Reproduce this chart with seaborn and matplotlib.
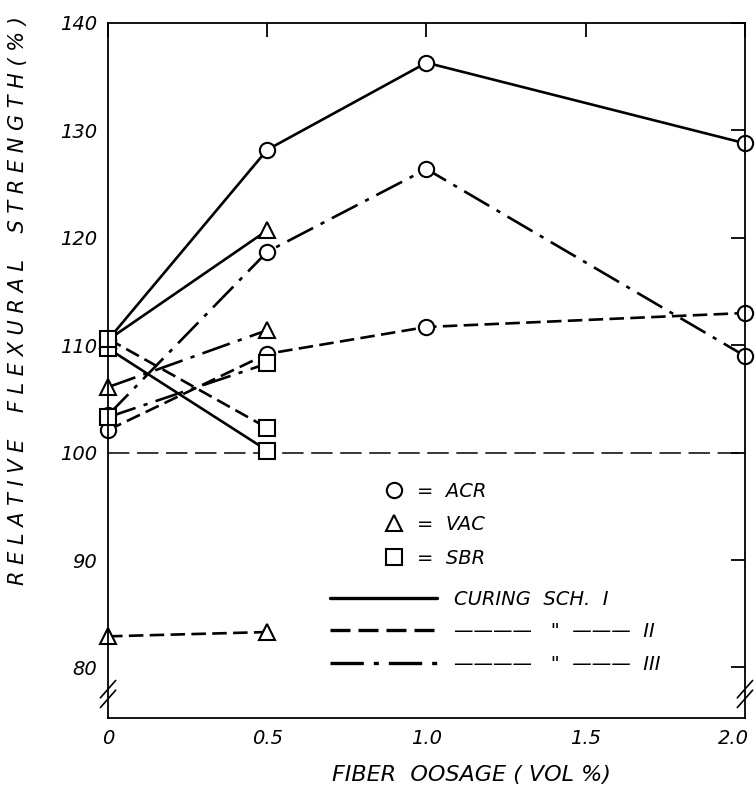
import pandas as pd
import matplotlib.pyplot as plt
import seaborn as sns
from matplotlib.lines import Line2D
from matplotlib.transforms import ScaledTranslation

# Values
dosage_long = [0, 0.5, 1.0, 2.0]
dosage_short = [0, 0.5]

acr_sch1 = [110.5, 128.2, 136.3, 128.8]
acr_sch2 = [102.1, 109.2, 111.7, 113.0]
acr_sch3 = [103.5, 118.7, 126.4, 109.0]

vac_sch1 = [110.5, 120.7]
vac_sch2 = [82.9, 83.3]
vac_sch3 = [106.1, 111.4]

sbr_sch1 = [109.7, 100.2]
sbr_sch2 = [110.6, 102.3]
sbr_sch3 = [103.3, 108.3]

x_ticks = [0, 0.5, 1.0, 1.5, 2.0]
x_tick_labels = ['0', '0.5', '1.0', '1.5', '2.0']
y_ticks = [80, 90, 100, 110, 120, 130, 140]

# Build one long table
rows = []
series = [
    ('ACR', 'I', dosage_long, acr_sch1), ('ACR', 'II', dosage_long, acr_sch2), ('ACR', 'III', dosage_long, acr_sch3),
    ('VAC', 'I', dosage_short, vac_sch1), ('VAC', 'II', dosage_short, vac_sch2), ('VAC', 'III', dosage_short, vac_sch3),
    ('SBR', 'I', dosage_short, sbr_sch1), ('SBR', 'II', dosage_short, sbr_sch2), ('SBR', 'III', dosage_short, sbr_sch3),
]
for mat, sch, xs, ys in series:
    for x, y in zip(xs, ys):
        rows.append({'dosage': x, 'strength': y, 'series': mat + ' ' + sch})
df = pd.DataFrame(rows)

marker_by_mat = {'ACR': 'o', 'VAC': '^', 'SBR': 's'}
dash_by_sch = {'I': '', 'II': (5.5, 2.4), 'III': (11, 3.2, 1.6, 3.2)}
markers = {m + ' ' + s: marker_by_mat[m] for m, s, _, _ in series}
dashes = {m + ' ' + s: dash_by_sch[s] for m, s, _, _ in series}

sns.set_theme(style='white')
plt.rcParams['font.family'] = ['DejaVu Sans']
plt.rcParams['font.style'] = 'italic'
plt.rcParams['text.color'] = 'black'
plt.rcParams['axes.labelcolor'] = 'black'

fig = plt.figure(figsize=(7.56, 7.87), dpi=100)
ax = fig.add_axes([0.1429, 0.0877, 0.8425, 0.8831])

ax.axhline(100, color='black', lw=1.1, dashes=(14, 5), zorder=1)

sns.lineplot(data=df, x='dosage', y='strength', style='series', markers=markers, dashes=dashes,
             estimator=None, sort=True, color='black', lw=1.9, markersize=11,
             markerfacecolor='white', markeredgecolor='black', markeredgewidth=1.5,
             clip_on=False, legend=False, ax=ax)

ax.set_xlim(0, 2.0)
ax.set_ylim(75.3, 140)
ax.set_xticks(x_ticks)
ax.set_xticklabels(x_tick_labels)
ax.set_yticks(y_ticks)
ax.tick_params(direction='in', length=10, width=1.3, top=True, right=True, labelsize=14,
               colors='black', labelcolor='black', pad=8)
for sp in ax.spines.values():
    sp.set_color('black')
    sp.set_linewidth(1.3)

# keep the last x tick label inside the figure
last = ax.get_xticklabels()[-1]
last.set_transform(last.get_transform() + ScaledTranslation(-0.12, 0, fig.dpi_scale_trans))

ax.set_xlabel('FIBER  OOSAGE ( VOL %)', fontsize=16, color='black')
ax.xaxis.set_label_coords(0.57, -0.068)
ax.set_ylabel('R E L A T I V E    F L E X U R A L    S T R E N G T H ( % )', fontsize=15, color='black')
ax.yaxis.set_label_coords(-0.125, 0.6)

# axis break marks
for x0 in (0, 1):
    for dy in (0, 0.014):
        ax.plot([x0 - 0.012, x0 + 0.012], [0.015 + dy, 0.04 + dy], transform=ax.transAxes,
                color='black', lw=1.2, clip_on=False)

# legends
mat_handles = [Line2D([], [], ls='none', marker=marker_by_mat[m], ms=11, mfc='white', mec='black', mew=1.5)
               for m in ['ACR', 'VAC', 'SBR']]
leg1 = ax.legend(mat_handles, ['=  ACR', '=  VAC', '=  SBR'], loc='center left',
                 bbox_to_anchor=(0.43, 0.278), frameon=False, fontsize=14, handlelength=1.2,
                 handletextpad=0.6, labelspacing=0.75, borderpad=0, borderaxespad=0,
                 labelcolor='black')
ax.add_artist(leg1)
sch_handles = [Line2D([], [], color='black', lw=2.4, dashes=(6, 2.4) if s == 'II' else ((10, 3, 1.5, 3) if s == 'III' else (None, None)))
               for s in ['I', 'II', 'III']]
sch_handles[0].set_linestyle('-')
ax.legend(sch_handles, ['CURING  SCH.  I', '\u2014\u2014\u2014\u2014   "  \u2014\u2014\u2014  II',
                        '\u2014\u2014\u2014\u2014   "  \u2014\u2014\u2014  III'],
          loc='center left', bbox_to_anchor=(0.3485, 0.124), frameon=False, fontsize=14,
          handlelength=5.5, handletextpad=0.9, labelspacing=0.7, borderpad=0, borderaxespad=0,
          labelcolor='black')

fig.savefig('out.png', dpi=100, facecolor='white')
